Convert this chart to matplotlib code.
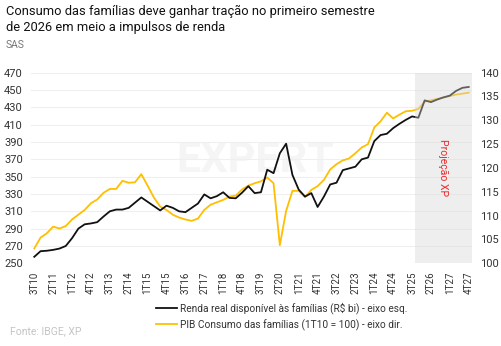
import matplotlib
matplotlib.use("Agg")
import numpy as np
import matplotlib.pyplot as plt
from matplotlib.lines import Line2D

# quarters 3T10 .. 4T27
quarters = [f"{q}T{y % 100:02d}" for y in range(2010, 2028) for q in range(1, 5)][2:]

renda = [
    257.5, 264, 264.5, 265.5, 267, 270, 279, 290, 295, 296,
    297.5, 304, 310, 312, 312, 314, 320, 326, 321, 316,
    311, 316.5, 314, 310, 309, 314, 319, 329.5, 325, 327.5,
    332, 325.5, 325, 331.5, 339, 331, 332, 358, 354, 377,
    388, 352, 335, 327, 331, 315, 327, 341, 343, 357.5,
    359.5, 361.5, 370, 372, 391, 398, 399.5, 406, 411, 415.5,
    419.5, 418, 438, 436, 439, 441.5, 443.5, 449, 452.5, 453.5,
]

consumo = [
    103.1, 105.4, 106.3, 107.7, 107.3, 107.8, 109.2, 110.2, 111.2, 112.6,
    113.4, 114.8, 115.6, 115.6, 117.3, 116.9, 117.0, 118.7, 116.3, 113.8,
    111.9, 111.2, 110.2, 109.6, 109.2, 108.9, 109.4, 111.2, 112.3, 112.8,
    113.3, 114.0, 114.2, 115.5, 116.3, 116.8, 117.2, 118.0, 116.8, 103.8,
    111.0, 115.2, 115.2, 113.9, 115.4, 116.2, 117.5, 119.7, 120.8, 121.6,
    122.0, 123.1, 124.3, 125.0, 128.5, 129.8, 131.6, 130.4, 131.2, 131.9,
    132.0, 132.4, 133.9, 134.2, 134.5, 134.8, 135.1, 135.4, 135.6, 135.8,
]

left_ticks = list(range(250, 471, 20))
right_ticks = list(range(100, 141, 5))
proj_start = "4T25"

plt.rcParams["font.family"] = ["Roboto", "DejaVu Sans"]

fig = plt.figure(figsize=(5.02, 3.46), dpi=100)
ax = fig.add_axes([0.062, 0.239, 0.878, 0.551])
ax2 = ax.twinx()
ax.set_zorder(2)
ax.patch.set_visible(False)

x = np.arange(len(quarters))
black = "#111111"
yellow = "#FFBF00"

ax.set_xlim(-0.5, len(quarters) - 0.5)
ax.set_ylim(250, 470)
ax2.set_ylim(100, 140)

ax.plot(x, renda, color=black, lw=1.3, zorder=3)
# right-axis series drawn on the left axes (mapped through ax2's scale) so the shading covers it too
to_left = ax2.transData + ax.transData.inverted()
consumo_left = to_left.transform(np.column_stack([x, consumo]))[:, 1]
ax.plot(x, consumo_left, color=yellow, lw=1.3, zorder=2)

# projection shading drawn on top of the lines
i0 = quarters.index(proj_start) - 0.5
i1 = len(quarters) - 0.5
ax.axvspan(i0, i1, facecolor="#d6d6d6", alpha=0.4, lw=0, zorder=4)
ax.text((i0 + i1) / 2, 360, "Projeção XP", rotation=-90, color="#e8282b",
        fontsize=7.5, ha="center", va="center", zorder=5)

# faint watermark
ax.text(35, 369, "EXPERT", fontsize=31, fontweight="bold", color="#f5f5f5",
        ha="center", va="center", zorder=0)

ax.set_yticks(left_ticks)
ax2.set_yticks(right_ticks)
ax.grid(axis="y", color="#efefef", lw=0.8, zorder=0)
ax.set_axisbelow(True)

ax.set_xticks(x[::3])
ax.set_xticklabels(quarters[::3], rotation=90, color="#333333")
for a in (ax, ax2):
    for s in a.spines.values():
        s.set_visible(False)
    a.tick_params(length=0, labelsize=8, labelcolor="#333333")
ax.tick_params(axis="x", pad=6, labelsize=7)
ax.tick_params(axis="y", pad=6)
ax2.tick_params(axis="y", pad=6)

fig.text(0.012, 0.985, "Consumo das famílias deve ganhar tração no primeiro semestre\nde 2026 em meio a impulsos de renda",
         fontsize=9.3, va="top", ha="left", color="#111111", linespacing=1.25)
fig.text(0.012, 0.885, "SAS", fontsize=7.5, va="top", ha="left", color="#777777")
fig.text(0.02, 0.043, "Fonte: IBGE, XP", fontsize=7.5, color="#c4c4c4", va="center")

handles = [Line2D([], [], color=black, lw=1.3), Line2D([], [], color=yellow, lw=1.3)]
labels = ["Renda real disponível às famílias (R$ bi) - eixo esq.",
          "PIB Consumo das famílias (1T10 = 100) - eixo dir."]
fig.legend(handles, labels, loc="upper left", bbox_to_anchor=(0.31, 0.125), frameon=False,
           fontsize=7.3, handlelength=2.1, handletextpad=0.35, labelspacing=0.45,
           borderaxespad=0, borderpad=0, labelcolor="#333333")

fig.savefig("out.png", dpi=100)
